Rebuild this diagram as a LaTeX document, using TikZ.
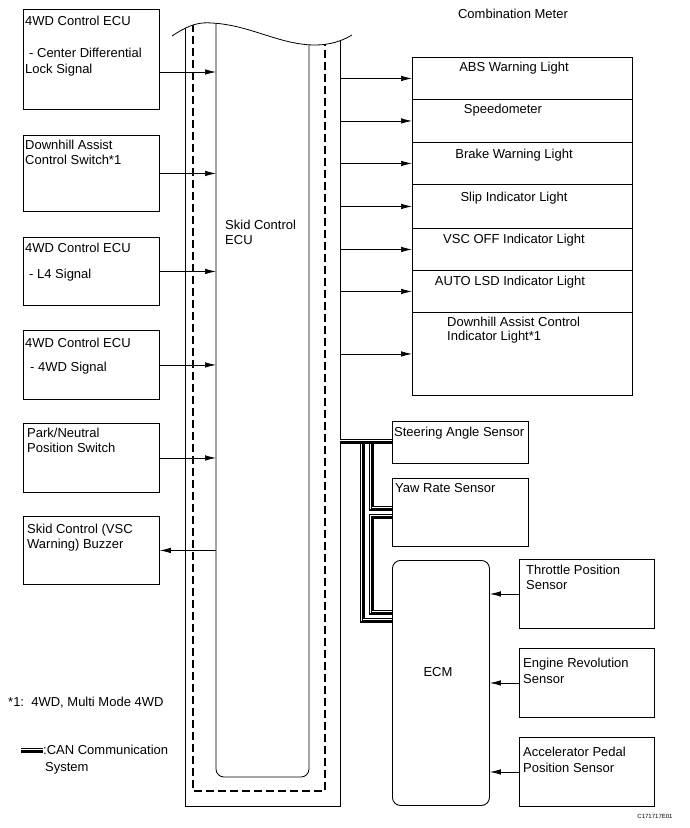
\documentclass[tikz,border=0pt]{standalone}
\usepackage{fontspec}
\setmainfont{Liberation Sans}
\usetikzlibrary{arrows.meta}

\begin{document}
\begin{tikzpicture}[x=1pt,y=-1pt]

    \tikzset{
      box/.style={
        draw,
        line width=0.9pt,
        inner sep=0pt,
        anchor=north west,
      },
      txt/.style={
        inner sep=0pt,
        font=\fontsize{13}{15}\selectfont,
      },
      sig/.style={
        line width=0.7pt,
        -{Latex[length=11pt,width=5.5pt]},
      },
      can/.style={
        line width=1.2pt,
        double=white,
        double distance=2.6pt,
        postaction={draw, line width=0.3pt},
      },
      dashline/.style={
        line width=1.4pt,
        dash pattern=on 8pt off 4pt,
      },
    }
    \useasboundingbox (0,0) rectangle (689,828);

    % skid control ECU, cut off at the top
    \node[inner sep=0pt, minimum width=93, minimum height=753, anchor=north west] (ecu) at (216,24) {};
    \node[inner sep=0pt, minimum width=155, minimum height=770, anchor=north west] (ecuout) at (185,36) {};
    \begin{scope}
      \clip (172,36) .. controls (190,24) and (200,22) .. (212,23) .. controls (250,25) and (280,45) .. (315,45) .. controls (330,45) and (342,41) .. (352,35) -- (352,820) -- (172,820) -- cycle;
      \draw[line width=0.9pt] (185,0) -- (185,806) -- (340,806) -- (340,0);
      \draw[dashline] (193,0) -- (193,791) -- (325,791) -- (325,0);
      \draw[line width=0.8pt, rounded corners=8pt] (216,0) -- (216,777) -- (309,777) -- (309,0);
    \end{scope}
    \draw[line width=0.8pt] (172,36) .. controls (190,24) and (200,22) .. (212,23) .. controls (250,25) and (280,45) .. (315,45) .. controls (330,45) and (342,41) .. (352,35);
    \node[txt, anchor=west] (ecut1) at (225,225) {Skid Control};
    \node[txt, anchor=west] (ecut2) at (225,240) {ECU};

    % inputs on the left
    \node[box, minimum width=136, minimum height=100] (cdl) at (23,9) {};
    \node[txt, anchor=west] (cdlt1) at (25,21) {4WD Control ECU};
    \node[txt, anchor=west] (cdlt2) at (29,53) {- Center Differential};
    \node[txt, anchor=west] (cdlt3) at (25,70) {Lock Signal};

    \node[box, minimum width=136, minimum height=76] (dac) at (23,135) {};
    \node[txt, anchor=west] (dact1) at (25,145) {Downhill Assist};
    \node[txt, anchor=west] (dact2) at (25,160) {Control Switch*1};

    \node[box, minimum width=136, minimum height=68] (lfour) at (23,237) {};
    \node[txt, anchor=west] (lfourt1) at (25,248) {4WD Control ECU};
    \node[txt, anchor=west] (lfourt2) at (29,275) {- L4 Signal};

    \node[box, minimum width=136, minimum height=69] (fwd) at (23,330) {};
    \node[txt, anchor=west] (fwdt1) at (25,343) {4WD Control ECU};
    \node[txt, anchor=west] (fwdt2) at (30,368) {- 4WD Signal};

    \node[box, minimum width=136, minimum height=69] (pnp) at (23,423) {};
    \node[txt, anchor=west] (pnpt1) at (27,433) {Park/Neutral};
    \node[txt, anchor=west] (pnpt2) at (27,448) {Position Switch};

    \node[box, minimum width=136, minimum height=68] (buzz) at (23,516) {};
    \node[txt, anchor=west] (buzzt1) at (27,530) {Skid Control (VSC};
    \node[txt, anchor=west] (buzzt2) at (27,545) {Warning) Buzzer};

    \draw[sig] (cdl.east |- 0,72) -- (ecu.west |- 0,72);
    \draw[sig] (dac.east) -- (ecu.west |- dac.east);
    \draw[sig] (lfour.east) -- (ecu.west |- lfour.east);
    \draw[sig] (fwd.east) -- (ecu.west |- fwd.east);
    \draw[sig] (pnp.east) -- (ecu.west |- pnp.east);
    \draw[sig] (ecu.west |- buzz.east) -- (buzz.east);

    % combination meter
    \node[txt] (meter) at (513,14) {Combination Meter};
    \node[box, minimum width=220, minimum height=42] (abs) at (412,57) {};
    \node[box, minimum width=220, minimum height=43] (speed) at (412,99) {};
    \node[box, minimum width=220, minimum height=42] (brake) at (412,142) {};
    \node[box, minimum width=220, minimum height=44] (slip) at (412,184) {};
    \node[box, minimum width=220, minimum height=42] (vsc) at (412,228) {};
    \node[box, minimum width=220, minimum height=42] (lsd) at (412,270) {};
    \node[box, minimum width=220, minimum height=83] (dacl) at (412,312) {};
    \node[txt] (abst) at (514,68) {ABS Warning Light};
    \node[txt] (speedt) at (503,110) {Speedometer};
    \node[txt] (braket) at (514,155) {Brake Warning Light};
    \node[txt] (slipt) at (514,198) {Slip Indicator Light};
    \node[txt] (vsct) at (514,240) {VSC OFF Indicator Light};
    \node[txt] (lsdt) at (510,282) {AUTO LSD Indicator Light};
    \node[txt, anchor=west] (daclt1) at (447,322) {Downhill Assist Control};
    \node[txt, anchor=west] (daclt2) at (447,337) {Indicator Light*1};

    \draw[sig] (ecuout.east |- abs.west) -- (abs.west);
    \draw[sig] (ecuout.east |- speed.west) -- (speed.west);
    \draw[sig] (ecuout.east |- brake.west) -- (brake.west);
    \draw[sig] (ecuout.east |- slip.west) -- (slip.west);
    \draw[sig] (ecuout.east |- vsc.west) -- (vsc.west);
    \draw[sig] (ecuout.east |- lsd.west) -- (lsd.west);
    \draw[sig] (ecuout.east |- dacl.west) -- (dacl.west);

    % sensors on the CAN bus
    \node[box, minimum width=136, minimum height=42] (steer) at (392,421) {};
    \node[txt, anchor=west] (steert) at (394,433) {Steering Angle Sensor};
    \node[box, minimum width=136, minimum height=68] (yaw) at (392,478) {};
    \node[txt, anchor=west] (yawt) at (395,488) {Yaw Rate Sensor};
    \node[box, rounded corners=8pt, minimum width=97, minimum height=245] (ecm) at (392,560) {};
    \node[txt] (ecmt) at (438,672) {ECM};

    \draw[can] (362,441) -- (362,620) -- (ecm.west |- 0,620);
    \draw[can] (371,441) -- (371,508) -- (yaw.west |- 0,508);
    \draw[can] (yaw.west |- 0,516) -- (371,516) -- (371,612) -- (ecm.west |- 0,612);
    \draw[can] (ecuout.east |- 0,441) -- (steer.west |- 0,441);

    % inputs to the ECM
    \node[box, minimum width=135, minimum height=69] (tps) at (519,559) {};
    \node[txt, anchor=west] (tpst1) at (526,570) {Throttle Position};
    \node[txt, anchor=west] (tpst2) at (526,585) {Sensor};
    \node[box, minimum width=135, minimum height=69] (nes) at (519,648) {};
    \node[txt, anchor=west] (nest1) at (523,664) {Engine Revolution};
    \node[txt, anchor=west] (nest2) at (523,679) {Sensor};
    \node[box, minimum width=135, minimum height=69] (apps) at (519,737) {};
    \node[txt, anchor=west] (appst1) at (523,752) {Accelerator Pedal};
    \node[txt, anchor=west] (appst2) at (523,768) {Position Sensor};

    \draw[sig] (tps.west) -- (ecm.east |- tps.west);
    \draw[sig] (nes.west) -- (ecm.east |- nes.west);
    \draw[sig] (apps.west) -- (ecm.east |- apps.west);

    % notes
    \node[txt, anchor=west] (note) at (8,703) {*1:\ \ 4WD, Multi Mode 4WD};
    \coordinate (canl) at (21,750);
    \coordinate (canr) at (43,750);
    \draw[can] (canl) -- (canr);
    \node[txt, anchor=west] (cant1) at (43,750) {:CAN Communication};
    \node[txt, anchor=west] (cant2) at (45,768) {System};
    \node[inner sep=0pt, font=\fontsize{6}{7}\selectfont] (code) at (655,816) {C171717E01};

\end{tikzpicture}
\end{document}
